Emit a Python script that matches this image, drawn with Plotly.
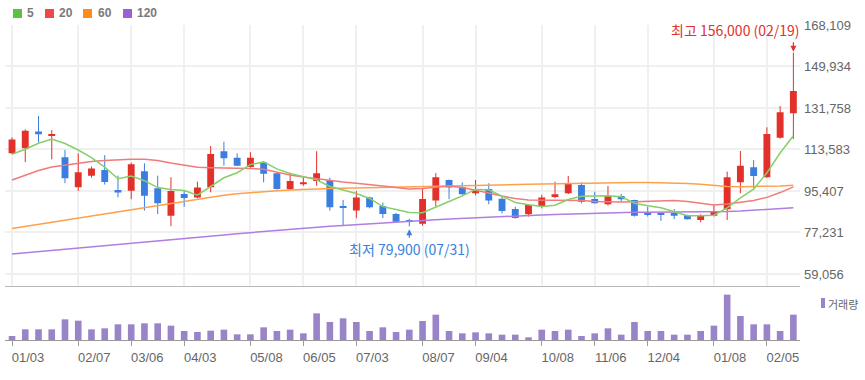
import plotly.graph_objects as go

# ---------------- data ----------------
tick_pos = [0, 5, 9, 13, 18, 22, 26, 31, 35, 40, 44, 48, 53, 57]
tick_labels = ["01/03", "02/07", "03/06", "04/03", "05/08", "06/05", "07/03",
               "08/07", "09/04", "10/08", "11/06", "12/04", "01/08", "02/05"]

opens = [111900, 114100, 121500, 119600, 110200, 97000, 102100, 104600, 95800, 95500,
         104000, 96600, 84500, 94100, 92600, 97000, 112800, 110000, 105900, 108000,
         103200, 96300, 98300, 99800, 100200, 88700, 86800, 92500, 88800, 85300,
         82400, 81000, 91200, 100200, 97000, 94400, 96300, 92000, 87500, 85200,
         88800, 93200, 94400, 98000, 91900, 89600, 93200, 91500, 85900, 85800,
         85800, 84900, 82700, 84500, 87400, 99200, 105800, 101400, 118700, 129400]
highs = [118900, 122400, 128300, 122100, 113400, 111900, 106100, 111100, 102100, 107800,
         107500, 102100, 101400, 95800, 99500, 115100, 117000, 111900, 112400, 108300,
         103300, 103400, 101400, 112800, 101200, 91500, 95400, 92900, 90300, 85800,
         83100, 96300, 103200, 100400, 99200, 100200, 98800, 92900, 88500, 89700,
         93700, 99500, 102000, 99200, 95100, 97600, 94100, 91600, 88500, 85900,
         87500, 85000, 85200, 89300, 103900, 112900, 109000, 123300, 132600, 156000]
lows = [111500, 108000, 116700, 109300, 98800, 95400, 101200, 98200, 92600, 91800,
        86800, 85300, 80000, 88500, 92200, 94800, 106500, 106300, 105600, 99200,
        96000, 95800, 97700, 97700, 86800, 80400, 83500, 87800, 83500, 81800,
        79900, 80200, 88500, 91800, 93800, 93500, 89600, 85600, 83300, 84200,
        87800, 92200, 94000, 90000, 89900, 89000, 90700, 84200, 84200, 82300,
        83100, 82900, 81700, 84200, 82700, 94400, 96600, 101200, 118300, 118200]
closes = [118000, 121800, 120200, 120100, 101000, 103600, 105200, 99300, 94700, 107100,
          93300, 90000, 95400, 92300, 96900, 111600, 109700, 106500, 110000, 102900,
          96300, 99800, 99200, 103200, 88300, 88300, 92500, 88300, 85300, 81900,
          82000, 91900, 101400, 96900, 94000, 96300, 91200, 86600, 83600, 89300,
          92500, 94000, 98800, 90700, 90000, 93200, 91800, 84600, 85300, 85300,
          84500, 83000, 84600, 86600, 101400, 106400, 102000, 120400, 129900, 139200]
volumes = [120000, 320000, 320000, 320000, 620000, 580000, 320000, 350000, 470000, 470000,
           500000, 500000, 430000, 270000, 240000, 280000, 310000, 170000, 170000, 380000,
           270000, 310000, 200000, 800000, 540000, 650000, 540000, 270000, 380000, 240000,
           310000, 570000, 760000, 270000, 200000, 230000, 200000, 160000, 160000, 80000,
           310000, 270000, 310000, 120000, 200000, 350000, 160000, 540000, 270000, 270000,
           160000, 160000, 270000, 430000, 1360000, 720000, 470000, 470000, 270000, 760000]

ma5 = [111500, 113700, 116300, 118200, 116220, 113340, 110020, 105840, 100760, 101980,
       99920, 96880, 96100, 95620, 93580, 97240, 101180, 103400, 106940, 108140,
       105080, 103100, 101640, 100280, 97360, 95760, 94300, 92120, 88540, 87260,
       86000, 85880, 88500, 90820, 93240, 96100, 95960, 93000, 90340, 89400,
       88640, 89200, 91640, 93060, 93200, 93340, 92900, 90060, 88980, 88040,
       86300, 84540, 84540, 84800, 88020, 92400, 96200, 103360, 112020, 119580]
ma20 = [100200, 102400, 104400, 105900, 106800, 107700, 108300, 108800, 109100, 109300,
        109300, 108800, 107700, 106600, 105800, 105600, 105600, 105600, 105300, 104900,
        103500, 102400, 101500, 100700, 100000, 99300, 98800, 98300, 97600, 96900,
        96300, 96500, 97200, 97600, 96900, 95800, 94500, 93200, 92100, 91500,
        91500, 91500, 91500, 91200, 90800, 90600, 90600, 90700, 90900, 91000,
        91200, 90800, 90000, 89300, 89700, 90400, 91200, 92600, 94700, 97200]
ma60 = [79000, 79900, 80800, 81700, 82600, 83500, 84500, 85300, 86300, 87200,
        88100, 89100, 90000, 91000, 91900, 92800, 93500, 94200, 94700, 95100,
        95500, 95800, 96100, 96300, 96500, 96600, 96700, 96800, 96900, 97000,
        97100, 97200, 97300, 97400, 97600, 97700, 97900, 98000, 98200, 98300,
        98500, 98600, 98800, 99000, 99100, 99200, 99200, 99150, 99100, 99050,
        99000, 98700, 98300, 97700, 97400, 97300, 97300, 97400, 97600, 97900]
ma120 = [67800, 68300, 68900, 69400, 69900, 70400, 71000, 71500, 72000, 72500,
         73100, 73600, 74100, 74600, 75100, 75600, 76100, 76700, 77200, 77700,
         78200, 78700, 79200, 79600, 79900, 80300, 80700, 81100, 81500, 81900,
         82300, 82600, 82800, 83100, 83400, 83600, 83900, 84100, 84400, 84700,
         84900, 85100, 85300, 85500, 85800, 85900, 86000, 86100, 86100, 86100,
         86100, 86200, 86200, 86300, 86400, 86600, 87000, 87300, 87700, 88100]

y_ticks = [59056, 77231, 95407, 113583, 131758, 149934, 168109]
ma_names = ["5", "20", "60", "120"]
high_date = "02/19"
low_date = "07/31"
volume_label = "거래량"

# ---------------- styles ----------------
UP = "#e2302b"
DOWN = "#3a7ee0"
MA_COLORS = ["#86cf6a", "#f27a7a", "#ffa04a", "#b07ee0"]
LEG_COLORS = ["#5cc043", "#ee4848", "#ff8a1e", "#a05ed4"]
VOL_COLOR = "#9a84c8"
GRID = "#f0f0f0"
FONT = "Liberation Sans, Arial, sans-serif"
KFONT = "Noto Sans CJK KR, sans-serif"

W, H = 865, 380
ML, MR, MT, MB = 5, 65, 25, 40
PW, PH = W - ML - MR, H - MT - MB


def px2x(px):
    return (px - ML) / PW


def py2y(py):
    return (H - MB - py) / PH


n = len(closes)
xs = list(range(n))

fig = go.Figure()

# wicks
for is_up, col in ((True, UP), (False, DOWN)):
    wx, wy = [], []
    for i in xs:
        if (closes[i] >= opens[i]) == is_up:
            wx += [i, i, None]
            wy += [lows[i], highs[i], None]
    fig.add_trace(go.Scatter(x=wx, y=wy, mode="lines", line=dict(color=col, width=1),
                             hoverinfo="skip", xaxis="x", yaxis="y"))

# bodies
for is_up, col in ((True, UP), (False, DOWN)):
    bx, bb, bh = [], [], []
    for i in xs:
        if (closes[i] >= opens[i]) == is_up:
            lo = min(opens[i], closes[i])
            h = max(abs(closes[i] - opens[i]), 350)
            bx.append(i)
            bb.append(lo)
            bh.append(h)
    fig.add_trace(go.Bar(x=bx, y=bh, base=bb, width=0.52, marker=dict(color=col, line=dict(width=0)),
                         xaxis="x", yaxis="y", hoverinfo="skip"))

# moving averages (long first so short ones sit on top)
for ma, col in ((ma120, MA_COLORS[3]), (ma60, MA_COLORS[2]), (ma20, MA_COLORS[1]), (ma5, MA_COLORS[0])):
    fig.add_trace(go.Scatter(x=xs, y=ma, mode="lines", line=dict(color=col, width=1.5),
                             xaxis="x", yaxis="y", hoverinfo="skip"))

# volume
fig.add_trace(go.Bar(x=xs, y=volumes, width=0.5, marker=dict(color=VOL_COLOR, line=dict(width=0)),
                     xaxis="x2", yaxis="y2", hoverinfo="skip"))

vol_top = max(volumes) * 1.167

fig.update_layout(
    width=W, height=H,
    margin=dict(l=ML, r=MR, t=MT, b=MB),
    paper_bgcolor="white", plot_bgcolor="white",
    showlegend=False, barmode="overlay", hovermode=False,
    font=dict(family=FONT, size=13, color="#666"),
    xaxis=dict(domain=[0, 1], anchor="y", range=[-0.53, n - 0.5], tickvals=tick_pos,
               showticklabels=False, ticks="", showgrid=True, gridcolor=GRID, gridwidth=2,
               zeroline=False, showline=True, linecolor="#b8b8b8", linewidth=1),
    xaxis2=dict(domain=[0, 1], anchor="y2", matches="x", tickvals=tick_pos, ticktext=tick_labels,
                ticks="outside", ticklen=5, tickcolor="#9a9a9a", showline=True, linecolor="#9a9a9a",
                linewidth=1, showgrid=False, zeroline=False, ticklabelshift=16,
                tickfont=dict(family=FONT, size=13, color="#666")),
    yaxis=dict(domain=[0.17, 1], range=[53582, 168109], side="right", tickvals=y_ticks,
               ticktext=[f"{v:,}" for v in y_ticks], showgrid=True, gridcolor=GRID, gridwidth=2,
               zeroline=False, ticks="", ticklabelstandoff=3,
               tickfont=dict(family=FONT, size=13, color="#666")),
    yaxis2=dict(domain=[0, 0.168], range=[0, vol_top], showticklabels=False, showgrid=False,
                zeroline=False),
)

# legend of moving averages (top-left)
leg_sq = [13, 45, 83, 123]
leg_tx = [25, 57, 96, 135]
shapes = []
annotations = []
for sx, tx, name, col in zip(leg_sq, leg_tx, ma_names, LEG_COLORS):
    shapes.append(dict(type="rect", xref="paper", yref="paper",
                       x0=px2x(sx), x1=px2x(sx + 9), y0=py2y(18), y1=py2y(9),
                       fillcolor=col, line=dict(width=0)))
    annotations.append(dict(xref="paper", yref="paper", x=px2x(tx), y=py2y(13.5),
                            xanchor="left", yanchor="middle", showarrow=False,
                            text=f"<b>{name}</b>", font=dict(family=FONT, size=12, color="#7a7a7a")))

# volume label
shapes.append(dict(type="rect", xref="paper", yref="paper", x0=px2x(821), x1=px2x(825),
                   y0=py2y(308), y1=py2y(298), fillcolor=VOL_COLOR, line=dict(width=0)))
annotations.append(dict(xref="paper", yref="paper", x=px2x(826), y=py2y(303.5), xanchor="left",
                        yanchor="middle", showarrow=False, text=volume_label,
                        font=dict(family=KFONT, size=11, color="#666")))

# high / low markers
hi_i = max(xs, key=lambda i: highs[i])
lo_i = min(xs, key=lambda i: lows[i])
annotations.append(dict(x=hi_i, y=highs[hi_i], xref="x", yref="y", showarrow=False,
                        xanchor="right", yanchor="middle", xshift=9, yshift=23,
                        text=f"최고 {highs[hi_i]:,} ({high_date})",
                        font=dict(family=KFONT, size=14, color=UP)))
annotations.append(dict(x=hi_i, y=highs[hi_i], xref="x", yref="y", showarrow=True, text="",
                        ax=0, ay=-12, arrowhead=2, arrowsize=1, arrowwidth=1.2,
                        arrowcolor=UP, standoff=1))
annotations.append(dict(x=lo_i, y=lows[lo_i], xref="x", yref="y", showarrow=True,
                        text=f"최저 {lows[lo_i]:,} ({low_date})", ax=0, ay=23,
                        arrowhead=2, arrowsize=1, arrowwidth=1.2, arrowcolor=DOWN, standoff=3,
                        font=dict(family=KFONT, size=14, color=DOWN)))

fig.update_layout(shapes=shapes, annotations=annotations)

fig.write_html("out.html", config={"displayModeBar": False},
               post_script="document.body.style.margin='0';")
